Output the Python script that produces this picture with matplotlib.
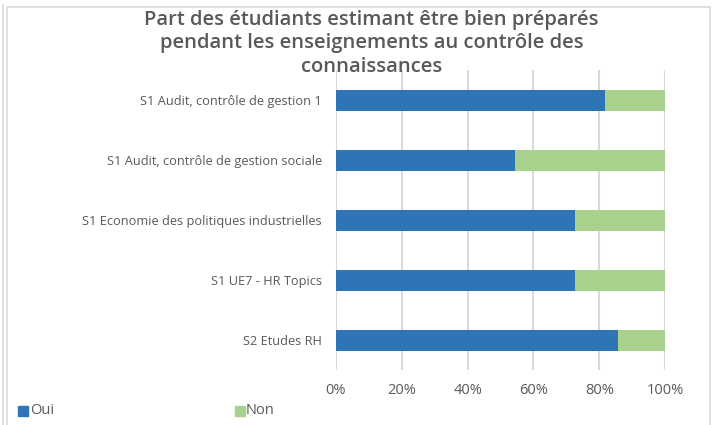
import matplotlib
matplotlib.use("Agg")
import matplotlib.pyplot as plt
from matplotlib.patches import Rectangle
from matplotlib.lines import Line2D
from matplotlib.ticker import PercentFormatter

categories = ["S1 Audit, contrôle de gestion 1",
              "S1 Audit, contrôle de gestion sociale",
              "S1 Economie des politiques industrielles",
              "S1 UE7 - HR Topics",
              "S2 Etudes RH"]
oui = [81.8, 54.5, 72.7, 72.7, 85.7]
non = [18.2, 45.5, 27.3, 27.3, 14.3]
xticks = [0, 20, 40, 60, 80, 100]

plt.rcParams['font.family'] = ['Open Sans', 'DejaVu Sans']
W, H = 715, 425
fig = plt.figure(figsize=(W/100, H/100), dpi=100)
ax = fig.add_axes([336/W, 1-370/H, 329/W, 300/H])

blue = "#2E75B6"
green = "#A9D18E"
y = list(range(len(categories)))
ax.barh(y, oui, height=0.35, color=blue, label="Oui", zorder=3)
ax.barh(y, non, left=oui, height=0.35, color=green, label="Non", zorder=3)

ax.set_ylim(4.5, -0.5)
ax.set_xlim(0, 100)
ax.set_xticks(xticks)
ax.xaxis.set_major_formatter(PercentFormatter(decimals=0))
ax.set_yticks(y)
ax.set_yticklabels(categories, fontsize=9.2, color="#595959")
ax.tick_params(axis='y', length=0, pad=10)
ax.tick_params(axis='x', length=0, pad=9, labelsize=10.5, labelcolor="#595959")
ax.grid(axis='x', color="#D9D9D9", linewidth=1.5, zorder=0)
for s in ax.spines.values():
    s.set_visible(False)

fig.text(0.5 + 14/W, 1-10/H, "Part des étudiants estimant être bien préparés\npendant les enseignements au contrôle des\nconnaissances",
         ha='center', va='top', fontsize=14.5, fontweight='semibold', color="#595959",
         linespacing=1.22)

# legend
fig.patches.append(Rectangle((18/W, 1-416/H), 10/W, 10/H, transform=fig.transFigure, color=blue))
fig.text(30/W, 1-411/H, "Oui", fontsize=10.5, color="#595959", va='center')
fig.patches.append(Rectangle((235/W, 1-416/H), 10/W, 10/H, transform=fig.transFigure, color=green))
fig.text(246/W, 1-411/H, "Non", fontsize=10.5, color="#595959", va='center')

# frame
fig.lines.append(Line2D([7/W, 7/W, 710/W, 710/W], [0, 1-7/H, 1-7/H, 0], transform=fig.transFigure,
                        color="#D9D9D9", linewidth=1.2))
fig.lines.append(Line2D([3/W, 3/W], [0, 1-5/H], transform=fig.transFigure,
                        color="#D9D9D9", linewidth=1.2))

fig.savefig("out.png", dpi=100)
